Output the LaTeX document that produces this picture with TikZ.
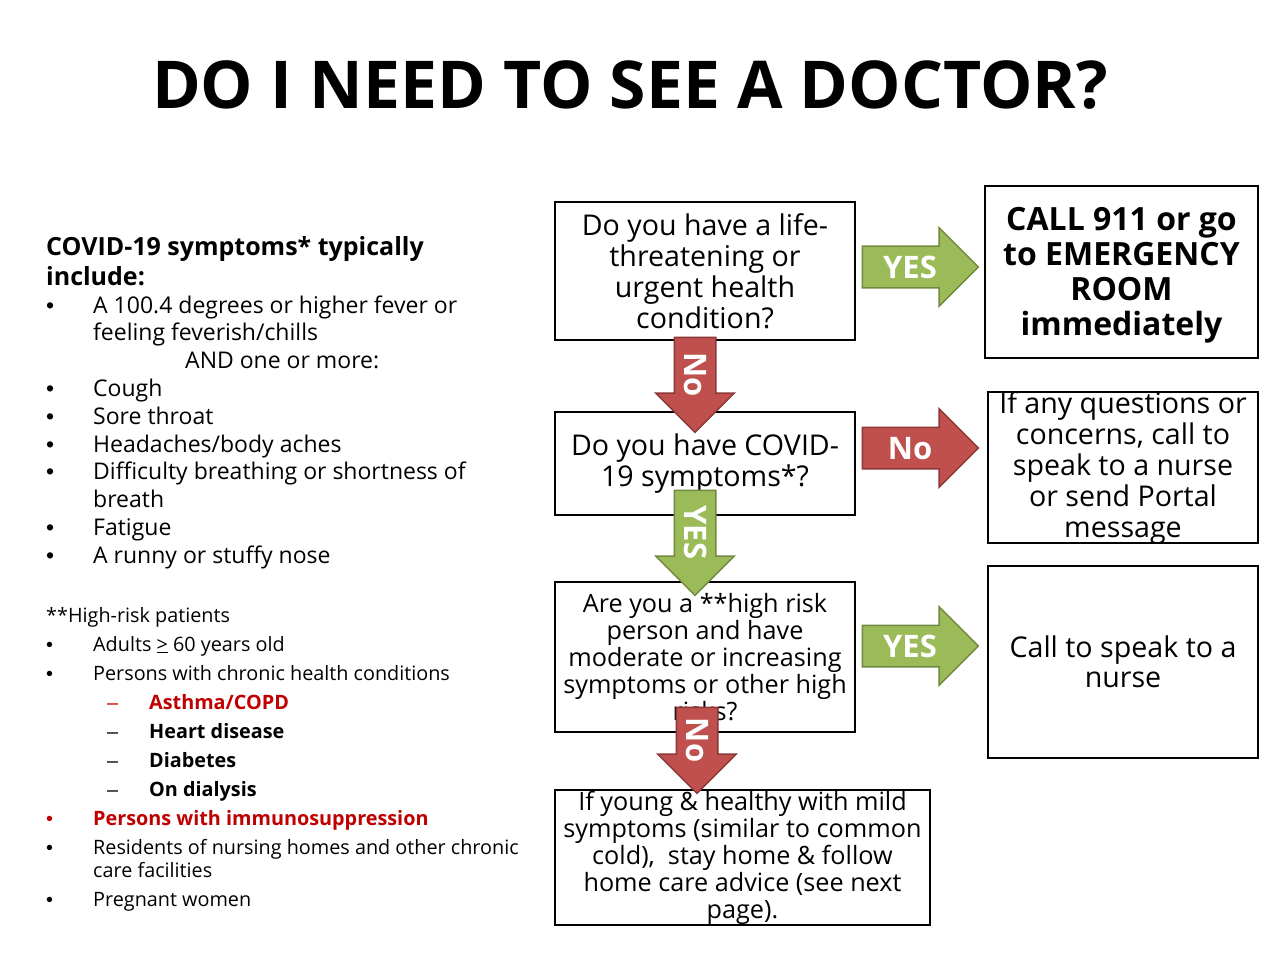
\documentclass[tikz,border=0pt]{standalone}
\usepackage{fontspec}
\setmainfont{Open Sans}
\newfontfamily\markfont{Liberation Sans}
\usepackage{array}
\usetikzlibrary{shapes.arrows,positioning}
\definecolor{noRed}{HTML}{C0504D}
\definecolor{noRedLine}{HTML}{8C3836}
\definecolor{yesGreen}{HTML}{9BBB59}
\definecolor{yesGreenLine}{HTML}{71893F}
\definecolor{riskRed}{HTML}{C00000}
\newcommand{\bul}{{\markfont\textbullet}}
\newcommand{\subdash}{\hspace{14pt}{\markfont\mdseries –}}

\begin{document}
\begin{tikzpicture}[
    x=1pt, y=-1pt,
    qbox/.style={rectangle, draw=black, line width=2.5pt, inner sep=0pt},
    qtext/.style={align=center, inner sep=0pt, font=\fontsize{28.6}{31}\selectfont},
    qsmall/.style={align=center, inner sep=0pt, font=\fontsize{25.2}{27}\selectfont},
    blockarrow/.style={single arrow, single arrow head extend=18.5pt, line width=1.5pt, inner xsep=2pt, inner ysep=9pt, text height=22pt, text depth=0pt, text=white, font=\fontsize{31}{31}\selectfont\bfseries},
    yesarrow/.style={blockarrow, fill=yesGreen, draw=yesGreenLine},
    noarrow/.style={blockarrow, fill=noRed, draw=noRedLine}
]
\useasboundingbox[fill=white] (0,0) rectangle (1280,960);

\node[font=\fontsize{66}{66}\selectfont\bfseries] (title) at (630,85) {DO I NEED TO SEE A DOCTOR?};

% left column
\node[anchor=base west, inner sep=0pt, font=\fontsize{25}{29}\selectfont\bfseries] (symhead) at (46,256) {%
  \begin{tabular}[t]{@{}l@{}}COVID-19 symptoms* typically\\include:\end{tabular}};
\node[anchor=base west, inner sep=0pt, font=\fontsize{23}{27.8}\selectfont] (symlist) at (46,313) {%
  \renewcommand{\arraystretch}{1}%
  \begin{tabular}[t]{@{}p{47pt}@{}l@{}}
  \bul & A 100.4 degrees or higher fever or\\
       & feeling feverish/chills\\
       & \hspace{92pt}AND one or more:\\
  \bul & Cough\\
  \bul & Sore throat\\
  \bul & Headaches/body aches\\
  \bul & Difficulty breathing or shortness of\\
       & breath\\
  \bul & Fatigue\\
  \bul & A runny or stuffy nose
  \end{tabular}};
\node[anchor=base west, inner sep=0pt, font=\fontsize{19.8}{23}\selectfont] (risklist) at (46,622) {%
  \renewcommand{\arraystretch}{1}%
  \begin{tabular}[t]{@{}p{47pt}@{}p{56pt}@{}l@{}}
  \multicolumn{3}{@{}l@{}}{**High-risk patients}\\[6pt]
  \bul & \multicolumn{2}{@{}l@{}}{Adults \underline{>} 60 years old}\\[6pt]
  \bul & \multicolumn{2}{@{}l@{}}{Persons with chronic health conditions}\\[6pt]
       & \textcolor{riskRed}{\subdash} & \textcolor{riskRed}{\bfseries Asthma/COPD}\\[6pt]
       & \subdash & \bfseries Heart disease\\[6pt]
       & \subdash & \bfseries Diabetes\\[6pt]
       & \subdash & \bfseries On dialysis\\[6pt]
  \textcolor{riskRed}{\bul} & \multicolumn{2}{@{}l@{}}{\textcolor{riskRed}{\bfseries Persons with immunosuppression}}\\[6pt]
  \bul & \multicolumn{2}{@{}l@{}}{Residents of nursing homes and other chronic}\\
       & \multicolumn{2}{@{}l@{}}{care facilities}\\[6pt]
  \bul & \multicolumn{2}{@{}l@{}}{Pregnant women}
  \end{tabular}};

% question boxes
\node[qbox, minimum width=300pt, minimum height=138pt] (life) at (705,271) {};
\node[qbox, minimum width=300pt, minimum height=103pt] (covid) at (705,463.5) {};
\node[qbox, minimum width=300pt, minimum height=150pt] (risk) at (705,657) {};
\node[qbox, minimum width=375pt, minimum height=135pt] (mild) at (742.5,857.5) {};
\node[qbox, minimum width=273pt, minimum height=172pt] (er) at (1121.5,272) {};
\node[qbox, minimum width=270pt, minimum height=151pt] (nurseq) at (1123,467.5) {};
\node[qbox, minimum width=270pt, minimum height=192pt] (nursecall) at (1123,662) {};

\node[qtext] (lifetxt) at (life) {Do you have a life-\\threatening or\\urgent health\\condition?};
\node[qtext] (covidtxt) at (covid) {Do you have COVID-\\19 symptoms*?};
\node[qsmall] (risktxt) at (risk) {Are you a **high risk\\person and have\\moderate or increasing\\symptoms or other high\\risks?};
\node[qsmall] (mildtxt) at (mild) {If young \& healthy with mild\\symptoms (similar to common\\cold),\ \ stay home \& follow\\home care advice (see next\\page).};
\node[align=center, inner sep=0pt, font=\fontsize{32}{35}\selectfont\bfseries] (ertxt) at ([yshift=-3pt]er.center) {CALL 911 or go\\to EMERGENCY\\ROOM\\immediately};
\node[qtext] (nurseqtxt) at (nurseq) {If any questions or\\concerns, call to\\speak to a nurse\\or send Portal\\message};
\node[qtext, font=\fontsize{28.6}{30}\selectfont] (nursecalltxt) at (nursecall) {Call to speak to a\\nurse};

% block arrows
\node[yesarrow, minimum height=116pt] (yes1) at (910,267) {YES};
\node[noarrow, minimum height=116pt] (no2) at (910,448) {No};
\node[yesarrow, minimum height=116pt] (yes3) at (910,646) {YES};
\node[noarrow, rotate=-90, minimum height=95pt] (no1) at (695,374.5) {No};
\node[yesarrow, rotate=-90, minimum height=105pt] (yes2) at (695,532.5) {YES};
\node[noarrow, rotate=-90, minimum height=86pt] (no3) at (697,740) {No};

\end{tikzpicture}
\end{document}
